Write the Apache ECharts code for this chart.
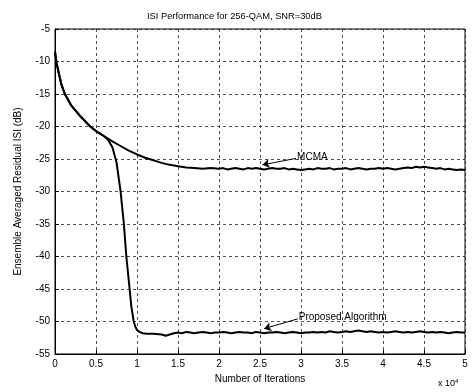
<!DOCTYPE html>
<html>
<head>
<meta charset="utf-8">
<script src="https://cdn.jsdelivr.net/npm/echarts@6/dist/echarts.min.js"></script>
<style>
  html, body { margin: 0; padding: 0; background: #fff; }
  #chart { width: 474px; height: 392px; }
</style>
</head>
<body>
<div id="chart"></div>
<script>
// iterations are in units of 10^4
const xTicks = [0, 0.5, 1, 1.5, 2, 2.5, 3, 3.5, 4, 4.5, 5];
const yTicks = [-5, -10, -15, -20, -25, -30, -35, -40, -45, -50, -55];

const mcmaX = [0, 0.02, 0.05, 0.08, 0.12, 0.2, 0.3, 0.43, 0.5, 0.6, 0.7, 0.8, 0.9, 1.0, 1.1, 1.2, 1.3, 1.4, 1.5, 1.6, 1.7, 1.8, 1.9,
  2.0, 2.05, 2.1, 2.15, 2.2, 2.25, 2.3, 2.35, 2.4, 2.45, 2.5, 2.55, 2.6, 2.65, 2.7, 2.75, 2.8, 2.85, 2.9, 2.95,
  3.0, 3.05, 3.1, 3.15, 3.2, 3.25, 3.3, 3.35, 3.4, 3.45, 3.5, 3.55, 3.6, 3.65, 3.7, 3.75, 3.8, 3.85, 3.9, 3.95,
  4.0, 4.05, 4.1, 4.15, 4.2, 4.25, 4.3, 4.35, 4.4, 4.45, 4.5, 4.55, 4.6, 4.65, 4.7, 4.75, 4.8, 4.85, 4.9, 4.95, 5.0];
const mcmaY = [-8.5, -10.3, -12, -13.6, -15, -16.8, -18.3, -20, -20.7, -21.5, -22.3, -23, -23.7, -24.3, -24.8, -25.2, -25.6, -25.9, -26.1, -26.3, -26.4, -26.5, -26.4,
  -26.5, -26.4, -26.6, -26.5, -26.4, -26.5, -26.6, -26.4, -26.5, -26.4, -26.5, -26.6, -26.5, -26.4, -26.5, -26.5, -26.4, -26.6, -26.5, -26.6,
  -26.7, -26.6, -26.5, -26.6, -26.4, -26.5, -26.5, -26.4, -26.6, -26.5, -26.5, -26.4, -26.6, -26.5, -26.4, -26.5, -26.6, -26.5, -26.5, -26.4,
  -26.5, -26.4, -26.5, -26.6, -26.5, -26.4, -26.3, -26.4, -26.2, -26.3, -26.2, -26.3, -26.4, -26.5, -26.4, -26.6, -26.5, -26.6, -26.7, -26.6, -26.7];

const propX = [0, 0.02, 0.05, 0.08, 0.12, 0.2, 0.3, 0.43, 0.5, 0.6, 0.65, 0.7, 0.75, 0.8, 0.84, 0.87, 0.91, 0.93, 0.96, 0.98, 1.0, 1.03, 1.07, 1.12, 1.2, 1.3, 1.35, 1.4, 1.45,
  1.5, 1.55, 1.6, 1.65, 1.7, 1.75, 1.8, 1.85, 1.9, 1.95, 2.0, 2.05, 2.1, 2.15, 2.2, 2.25, 2.3, 2.35, 2.4, 2.45, 2.5, 2.55, 2.6, 2.65, 2.7, 2.75, 2.8, 2.85, 2.9, 2.95,
  3.0, 3.05, 3.1, 3.15, 3.2, 3.25, 3.3, 3.35, 3.4, 3.45, 3.5, 3.55, 3.6, 3.65, 3.7, 3.75, 3.8, 3.85, 3.9, 3.95,
  4.0, 4.05, 4.1, 4.15, 4.2, 4.25, 4.3, 4.35, 4.4, 4.45, 4.5, 4.55, 4.6, 4.65, 4.7, 4.75, 4.8, 4.85, 4.9, 4.95, 5.0];
const propY = [-8.5, -10.3, -12, -13.6, -15, -16.8, -18.3, -20, -20.7, -21.5, -22.1, -23.2, -25.5, -30, -35, -40, -45, -47.6, -50, -50.8, -51.3, -51.6, -51.8, -51.9, -51.9, -52.0, -52.2, -52.0, -51.8,
  -51.7, -51.8, -51.6, -51.7, -51.8, -51.7, -51.6, -51.7, -51.8, -51.7, -51.7, -51.6, -51.7, -51.8, -51.7, -51.6, -51.7, -51.7, -51.8, -51.6, -51.7, -51.8, -51.7, -51.7, -51.6, -51.7, -51.8, -51.7, -51.6, -51.7,
  -51.8, -51.7, -51.7, -51.6, -51.7, -51.6, -51.7, -51.5, -51.6, -51.7, -51.6, -51.5, -51.6, -51.5, -51.4, -51.5, -51.6, -51.5, -51.6, -51.7,
  -51.6, -51.7, -51.6, -51.5, -51.6, -51.7, -51.6, -51.7, -51.6, -51.5, -51.6, -51.7, -51.6, -51.7, -51.6, -51.7, -51.8, -51.7, -51.6, -51.7, -51.7];

const chart = echarts.init(document.getElementById('chart'));
const font = 'Liberation Sans, Arial, sans-serif';

const mcmaData = mcmaX.map((x, i) => [x, mcmaY[i]]);
const propData = propX.map((x, i) => [x, propY[i]]);

const dashed = { color: '#222', width: 0.8, type: [3, 3] };

const option = {
  backgroundColor: '#fff',
  animation: false,
  title: {
    text: 'ISI Performance for 256-QAM, SNR=30dB',
    left: 142,
    top: 7,
    textStyle: { fontFamily: font, fontSize: 9.3, fontWeight: 'normal', color: '#000' }
  },
  grid: {
    left: 55, right: 9, top: 29, bottom: 38,
    show: true, borderColor: '#000', borderWidth: 1
  },
  xAxis: {
    type: 'value',
    min: xTicks[0], max: xTicks[xTicks.length - 1], interval: 0.5,
    name: 'Number of Iterations',
    nameLocation: 'middle',
    nameGap: 18,
    nameTextStyle: { fontFamily: font, fontSize: 10, color: '#000' },
    axisLine: { lineStyle: { color: '#000' } },
    axisTick: { inside: true, length: 4, lineStyle: { color: '#000' } },
    axisLabel: { fontFamily: font, fontSize: 10, color: '#000', margin: 5 },
    splitLine: { show: true, lineStyle: dashed }
  },
  yAxis: {
    type: 'value',
    min: yTicks[yTicks.length - 1], max: yTicks[0], interval: 5,
    name: 'Ensemble Averaged Residual ISI (dB)',
    nameLocation: 'middle',
    nameGap: 32,
    nameTextStyle: { fontFamily: font, fontSize: 10, color: '#000' },
    axisLine: { show: true, lineStyle: { color: '#000' } },
    axisTick: { show: true, inside: true, length: 4, lineStyle: { color: '#000' } },
    axisLabel: { fontFamily: font, fontSize: 10, color: '#000', margin: 5 },
    splitLine: { show: true, lineStyle: dashed }
  },
  series: [
    {
      name: 'MCMA',
      type: 'line',
      data: mcmaData,
      showSymbol: false,
      lineStyle: { color: '#000', width: 2 },
      markLine: {
        silent: true,
        symbol: ['none', 'arrow'],
        symbolSize: 7,
        lineStyle: { color: '#000', width: 1, type: 'solid' },
        label: { show: false },
        data: [[{ coord: [2.94, -24.9] }, { coord: [2.53, -25.9] }]]
      },
      markPoint: {
        symbol: 'circle',
        symbolSize: 0,
        label: { show: true, position: 'right', distance: 1, formatter: 'MCMA', fontFamily: font, fontSize: 10, color: '#000' },
        data: [{ coord: [2.94, -24.8] }]
      }
    },
    {
      name: 'Proposed Algorithm',
      type: 'line',
      data: propData,
      showSymbol: false,
      lineStyle: { color: '#000', width: 2 },
      markLine: {
        silent: true,
        symbol: ['none', 'arrow'],
        symbolSize: 7,
        lineStyle: { color: '#000', width: 1, type: 'solid' },
        label: { show: false },
        data: [[{ coord: [2.96, -49.6] }, { coord: [2.55, -51.1] }]]
      },
      markPoint: {
        symbol: 'circle',
        symbolSize: 0,
        label: { show: true, position: 'right', distance: 1, formatter: 'Proposed Algorithm', fontFamily: font, fontSize: 10, color: '#000' },
        data: [{ coord: [2.96, -49.3] }]
      }
    }
  ],
  graphic: [
    {
      type: 'text',
      left: 438,
      top: 378,
      style: {
        text: 'x 10{s|4}',
        rich: { s: { fontSize: 6, verticalAlign: 'top', padding: [0, 0, 6, 0] } },
        fontFamily: font, fontSize: 9, fill: '#000'
      }
    }
  ]
};

chart.setOption(option);
</script>
</body>
</html>
